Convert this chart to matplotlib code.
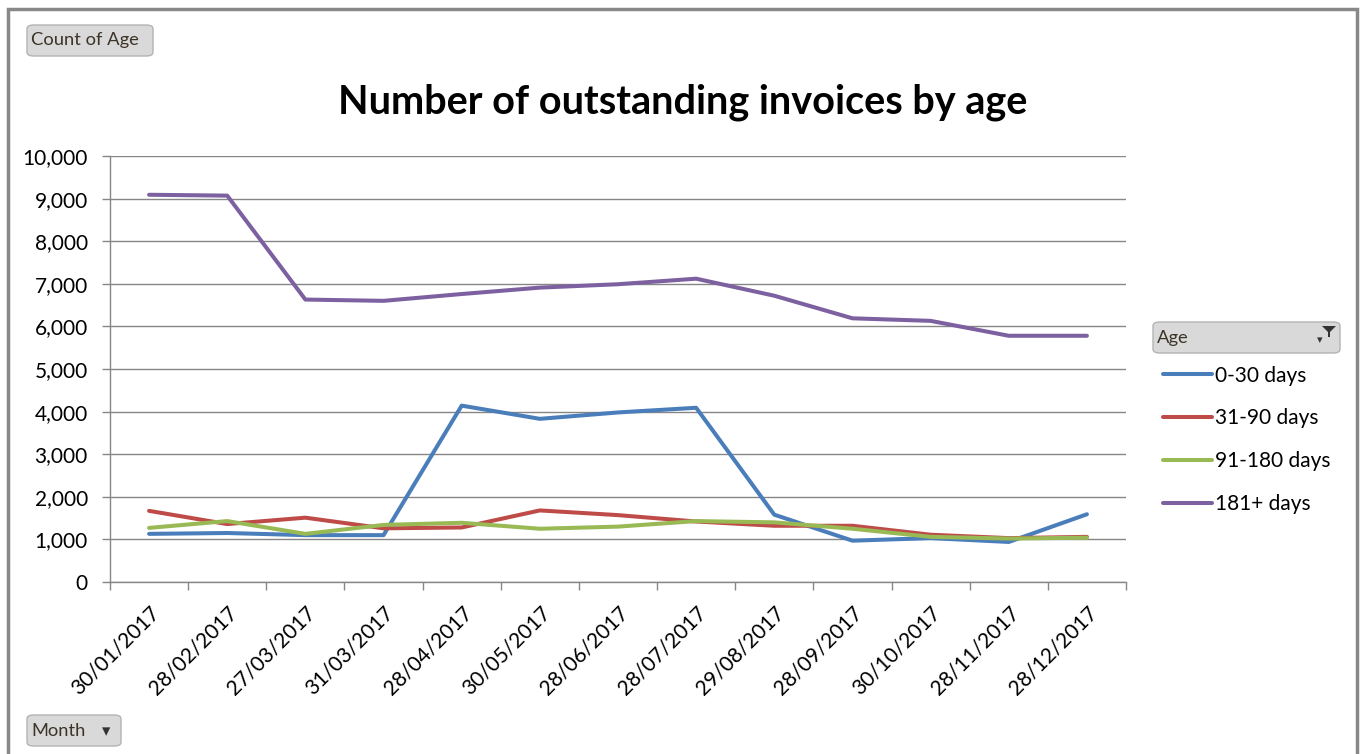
import numpy as np
import matplotlib.pyplot as plt
from matplotlib.patches import FancyBboxPatch, Rectangle, Polygon

plt.rcParams['font.family'] = ['Lato', 'DejaVu Sans']

months = ['30/01/2017', '28/02/2017', '27/03/2017', '31/03/2017', '28/04/2017',
          '30/05/2017', '28/06/2017', '28/07/2017', '29/08/2017', '28/09/2017',
          '30/10/2017', '28/11/2017', '28/12/2017']

days_0_30 = [1130, 1150, 1100, 1100, 4140, 3830, 3980, 4090, 1580, 970, 1030, 940, 1590]
days_31_90 = [1670, 1360, 1510, 1260, 1280, 1680, 1570, 1420, 1320, 1320, 1110, 1030, 1060]
days_91_180 = [1270, 1430, 1130, 1340, 1390, 1250, 1300, 1430, 1400, 1250, 1060, 1020, 1040]
days_181 = [9090, 9070, 6630, 6600, 6760, 6910, 6990, 7120, 6720, 6190, 6130, 5780, 5780]

series = [('0-30 days', days_0_30, '#4a7ebb'),
          ('31-90 days', days_31_90, '#be4b48'),
          ('91-180 days', days_91_180, '#98b954'),
          ('181+ days', days_181, '#7d60a0')]

W, H = 1362, 754
fig = plt.figure(figsize=(W / 100, H / 100), dpi=100)
fig.patch.set_facecolor('white')

def fx(px):
    return px / W

def fy(py):
    return 1 - py / H

ax = fig.add_axes([fx(110), fy(582), fx(1126) - fx(110), fy(156) - fy(582)])

x = np.arange(len(months))
for name, vals, col in series:
    ax.plot(x, vals, color=col, lw=2.9, label=name, solid_capstyle='round',
            solid_joinstyle='round')

grey = '#868686'
ax.set_xlim(-0.5, len(months) - 0.5)
ax.set_ylim(0, 10000)
ax.set_yticks(np.arange(0, 10001, 1000))
ax.set_yticklabels([f'{v:,}' for v in range(0, 10001, 1000)])
ax.yaxis.grid(True, color=grey, lw=1)
ax.set_axisbelow(True)

ax.set_xticks(x)
ax.set_xticklabels(months, rotation=45, ha='right', va='top',
                   rotation_mode='anchor')
ax.set_xticks(np.arange(-0.5, len(months)), minor=True)
ax.tick_params(axis='x', which='major', length=0, pad=15, labelsize=15)
ax.tick_params(axis='x', which='minor', length=6, color=grey, width=1)
ax.tick_params(axis='y', length=6, color=grey, width=1, labelsize=15, pad=10)

for side in ['top', 'right']:
    ax.spines[side].set_visible(False)
for side in ['left', 'bottom']:
    ax.spines[side].set_color(grey)
    ax.spines[side].set_linewidth(1)

fig.text(fx(683), fy(102), 'Number of outstanding invoices by age',
         ha='center', va='center', fontsize=28.5, fontweight='bold')

# legend
leg = fig.legend(loc='upper left', bbox_to_anchor=(fx(1144), fy(347)),
                 frameon=False, fontsize=15, handlelength=2.35,
                 handletextpad=0.15, labelspacing=1.09)

# outer frame
fig.add_artist(Rectangle((fx(8), fy(800)), fx(1357) - fx(8), fy(9) - fy(800),
                         transform=fig.transFigure, fill=False,
                         edgecolor='#888888', lw=2.5))

def button(x0, y0, x1, y1, label):
    fig.add_artist(FancyBboxPatch((fx(x0), fy(y1)), fx(x1) - fx(x0), fy(y0) - fy(y1),
                                  boxstyle='round,pad=0,rounding_size=0.005',
                                  transform=fig.transFigure,
                                  facecolor='#d9d9d9', edgecolor='#b3b3b3', lw=1))
    fig.text(fx(x0 + 4), fy((y0 + y1) / 2), label, ha='left', va='center',
             fontsize=13.2, color='#3d3428')

button(27, 25, 153, 56, 'Count of Age')
button(27, 715, 121, 746, 'Month')
fig.text(fx(106), fy(731), '▾', ha='center', va='center', fontsize=12,
         color='#333333', family='DejaVu Sans')
button(1153, 322, 1340, 353, 'Age')
fig.text(fx(1320), fy(340), '▾', ha='center', va='center', fontsize=8,
         color='#333333', family='DejaVu Sans')
fig.add_artist(Polygon([(fx(1322), fy(326)), (fx(1336), fy(326)),
                        (fx(1330), fy(332)), (fx(1330), fy(337)),
                        (fx(1328), fy(337)), (fx(1328), fy(332))],
                       closed=True, transform=fig.transFigure,
                       facecolor='#333333', edgecolor='none'))

fig.savefig('out.png', dpi=100)
